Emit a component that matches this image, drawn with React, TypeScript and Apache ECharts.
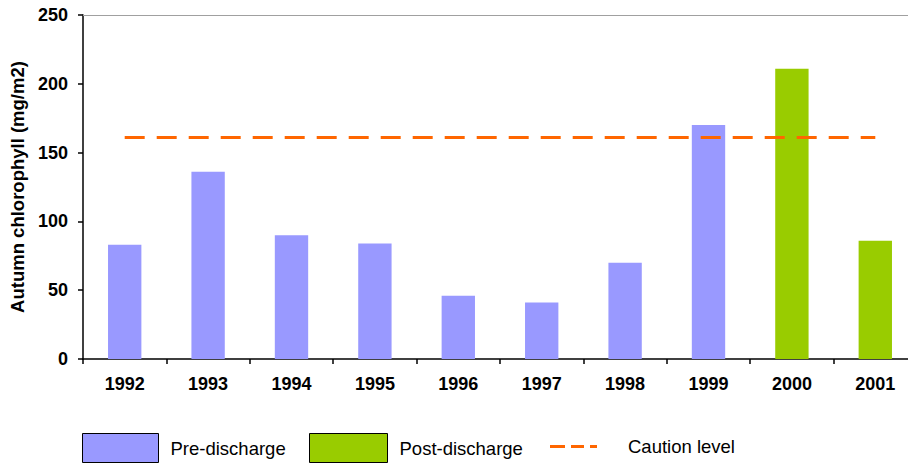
import React, { useEffect, useRef } from "react";
import * as echarts from "echarts";

const years = ["1992", "1993", "1994", "1995", "1996", "1997", "1998", "1999", "2000", "2001"];
const preDischarge: (number | string)[] = [83, 136, 90, 84, 46, 41, 70, 170, "-", "-"];
const postDischarge: (number | string)[] = ["-", "-", "-", "-", "-", "-", "-", "-", 211, 86];
const cautionLevel = [161, 161, 161, 161, 161, 161, 161, 161, 161, 161];
const yTicks = { min: 0, max: 250, interval: 50 };

const FONT = "'Liberation Sans', Arial, sans-serif";

export default function App() {
  const ref = useRef<HTMLDivElement>(null);
  useEffect(() => {
    if (!ref.current) return;
    const chart = echarts.init(ref.current, undefined, { renderer: "svg" });
    chart.setOption({
      animation: false,
      backgroundColor: "#ffffff",
      textStyle: { fontFamily: FONT },
      grid: {
        left: 83,
        top: 15,
        width: 834,
        height: 344,
        containLabel: false,
        outerBoundsMode: "none",
      },
      xAxis: [
        {
          type: "category",
          data: years,
          boundaryGap: true,
          axisLine: { show: true, lineStyle: { color: "#000", width: 1.5 } },
          axisTick: { show: true, length: 5, lineStyle: { color: "#000", width: 1.5 } },
          axisLabel: { color: "#000", fontWeight: "bold", fontSize: 18, fontFamily: FONT, margin: 16 },
          splitLine: { show: false },
        },
        {
          type: "category",
          data: years,
          position: "top",
          axisLine: { show: true, lineStyle: { color: "#a0a0a0", width: 1 } },
          axisTick: { show: false },
          axisLabel: { show: false },
          splitLine: { show: false },
        },
      ],
      yAxis: {
        type: "value",
        min: yTicks.min,
        max: yTicks.max,
        interval: yTicks.interval,
        name: "Autumn chlorophyll (mg/m2)",
        nameLocation: "middle",
        nameGap: 56,
        nameRotate: 90,
        nameTextStyle: { color: "#000", fontWeight: "bold", fontSize: 18.5, fontFamily: FONT },
        axisLine: { show: true, lineStyle: { color: "#000", width: 1.5 } },
        axisTick: { show: true, length: 5, lineStyle: { color: "#000", width: 1.5 } },
        axisLabel: { color: "#000", fontWeight: "bold", fontSize: 18, fontFamily: FONT, margin: 15 },
        splitLine: { show: false },
      },
      legend: [
        {
          data: [{ name: "Pre-discharge", icon: "rect" }],
          left: 82,
          top: 433,
          padding: 0,
          itemWidth: 76,
          itemHeight: 29,
          itemStyle: { borderColor: "#000", borderWidth: 1 },
          textStyle: { color: "#000", fontSize: 18.5, fontFamily: FONT, padding: [0, 0, 8, 7] },
        },
        {
          data: [{ name: "Post-discharge", icon: "rect" }],
          left: 309,
          top: 433,
          padding: 0,
          itemWidth: 78,
          itemHeight: 29,
          itemStyle: { borderColor: "#000", borderWidth: 1 },
          textStyle: { color: "#000", fontSize: 18.5, fontFamily: FONT, padding: [0, 0, 8, 7] },
        },
        {
          data: [
            {
              name: "Caution level",
              icon: "path://M0,0h15v3h-15z M21,0h13v3h-13z M40,0h7v3h-7z",
            },
          ],
          left: 550,
          top: 437,
          padding: 0,
          itemWidth: 47,
          itemHeight: 3,
          itemStyle: { color: "#FF6600", borderWidth: 0 },
          textStyle: { color: "#000", fontSize: 18.5, fontFamily: FONT, padding: [0, 0, 0, 26] },
        },
      ],
      series: [
        {
          name: "Pre-discharge",
          type: "bar",
          stack: "bars",
          data: preDischarge,
          barCategoryGap: "60%",
          itemStyle: { color: "#9999FF" },
        },
        {
          name: "Post-discharge",
          type: "bar",
          stack: "bars",
          data: postDischarge,
          barCategoryGap: "60%",
          itemStyle: { color: "#99CC00" },
        },
        {
          name: "Caution level",
          type: "line",
          data: cautionLevel,
          symbol: "none",
          lineStyle: { color: "#FF6600", width: 3, type: [20, 12] },
          itemStyle: { color: "#FF6600" },
          z: 5,
        },
      ],
    });
    return () => chart.dispose();
  }, []);
  return (
    <div
      ref={ref}
      style={{ position: "fixed", left: 0, top: 0, width: 908, height: 463 }}
    />
  );
}
